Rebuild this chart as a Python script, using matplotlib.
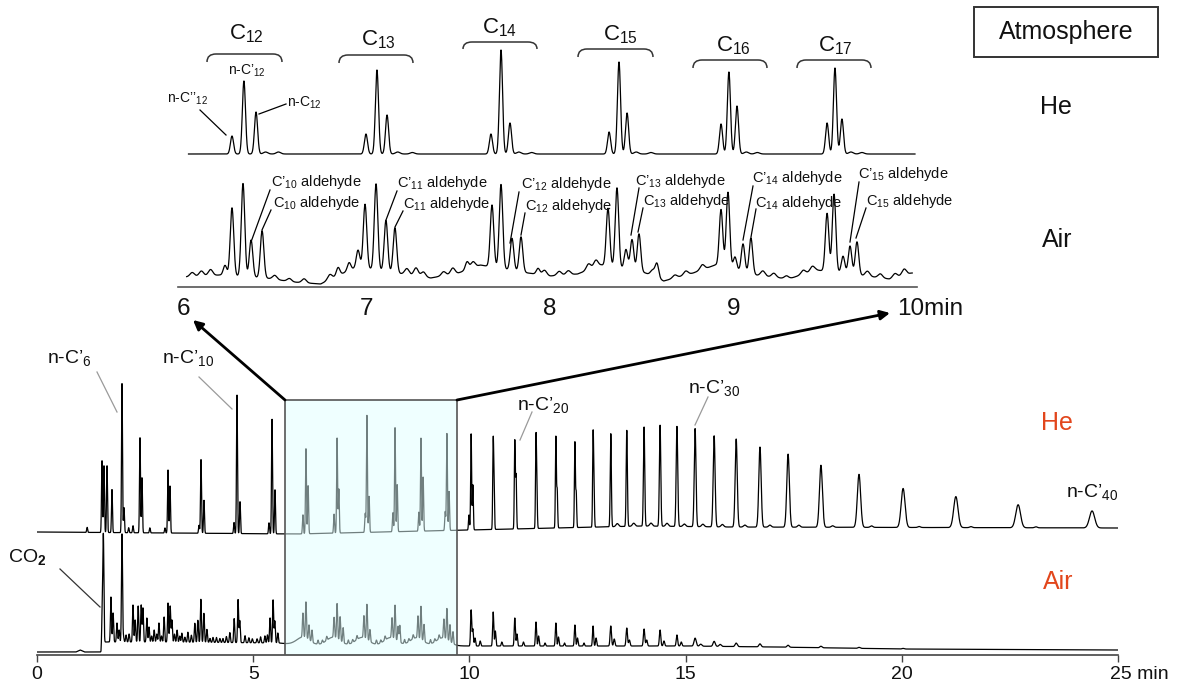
import numpy as np
import matplotlib
matplotlib.use("Agg")
import matplotlib.pyplot as plt
from matplotlib.transforms import Affine2D, ScaledTranslation
from matplotlib.patches import Rectangle, PathPatch
from matplotlib.path import Path
from matplotlib.lines import Line2D

plt.rcParams['font.family'] = ['Liberation Sans', 'DejaVu Sans']
plt.rcParams['mathtext.fontset'] = 'custom'
plt.rcParams['mathtext.rm'] = 'Liberation Sans'
plt.rcParams['mathtext.it'] = 'Liberation Sans:italic'
plt.rcParams['mathtext.bf'] = 'Liberation Sans:bold'

# ---------------- data: main chromatogram (0-25 min) ----------------
MAIN_TICKS = [0, 5, 10, 15, 20, 25]
MAIN_TICK_LABELS = ['0', '5', '10', '15', '20', '25 min']

# He atmosphere : baseline anchors and peaks (time min, height, width)
HE_BASE_T = [0, 6, 10, 14, 16, 25]
HE_BASE_Y = [123, 121, 125, 129, 128, 127]
HE_EARLY_T = [1.16, 1.503, 1.549, 1.619, 1.734, 1.966, 2.012, 2.12, 2.22, 2.382, 2.428, 2.61,
              2.96, 3.030, 3.076, 3.747, 3.793, 3.862, 4.556, 4.625, 4.695, 5.365, 5.435, 5.504]
HE_EARLY_H = [5, 72, 67, 67, 43, 149, 25, 5, 7, 95, 55, 5,
              5, 63, 47, 8, 74, 33, 11, 139, 32, 11, 115, 44]
HE_BOX_T = [6.15, 6.22, 6.27, 6.87, 6.94, 6.98, 7.59, 7.63, 7.68, 8.23, 8.28, 8.33,
            8.83, 8.88, 8.93, 9.44, 9.48, 9.53]
HE_BOX_H = [19, 85, 48, 19, 95, 44, 19, 117, 36, 19, 104, 47, 19, 93, 54, 19, 97, 39]
HE_LATE_T = [9.99, 10.04, 10.08, 10.55, 10.57, 11.05, 11.08, 11.54, 11.56, 12.00, 12.03,
             12.44, 12.47, 12.86, 12.88, 13.27, 13.64, 14.04, 14.41, 14.80, 15.22, 15.66,
             16.17, 16.72, 17.37, 18.13, 19.01, 20.03, 21.25, 22.69, 24.40]
HE_LATE_H = [15, 96, 45, 85, 37, 88, 53, 88, 36, 91, 38, 85, 35, 88, 41, 93, 96, 99, 101,
             100, 98, 91, 88, 80, 73, 62, 53, 39, 31, 23, 17]
HE_LATE_W = [0.011] * 15 + [0.013, 0.014, 0.015, 0.016, 0.018, 0.02, 0.022, 0.024, 0.027,
                            0.03, 0.034, 0.038, 0.045, 0.05, 0.055, 0.06]
HE_MINOR_T = [13.42, 13.8, 14.2, 14.57, 14.97, 15.4, 15.85, 16.37, 16.95, 17.62, 18.4, 19.3,
              20.4, 21.6, 23.1]
HE_MINOR_H = [3, 3, 3, 3, 2.5, 2.5, 2.5, 2, 2, 2, 1.5, 1.5, 1, 1, 1]

# Air atmosphere
AIR_BASE_T = [0, 0.9, 1.0, 1.1, 1.48, 1.5, 3.0, 5.6, 6.0, 10.0, 12.0, 15.0, 17.0, 20.0, 25.0]
AIR_BASE_Y = [3, 3, 5, 3, 3, 13, 13, 12, 10, 9, 9, 9, 8, 6, 5]
AIR_EARLY_T = [1.51, 1.535, 1.71, 1.76, 1.85, 1.90, 1.966, 2.0, 2.06, 2.13, 2.22, 2.27, 2.34,
               2.41, 2.45, 2.54, 2.59, 2.65, 2.71, 2.77, 2.82, 2.88, 2.94, 3.03, 3.08, 3.12,
               3.18, 3.24, 3.30, 3.35, 3.42, 3.49, 3.57, 3.65, 3.72, 3.79, 3.86, 3.93, 4.0,
               4.07, 4.15, 4.23, 4.30, 4.38, 4.46, 4.56, 4.65, 4.69, 4.81, 4.90, 4.98, 5.09,
               5.17, 5.27, 5.33, 5.39, 5.46, 5.50, 5.57]
AIR_EARLY_H = [30, 105, 45, 29, 19, 12, 108, 5, 7, 8, 37, 22, 36,
               37, 34, 24, 15, 6, 12, 8, 19, 6, 25, 39, 36, 22,
               8, 12, 6, 9, 5, 10, 7, 19, 22, 43, 29, 13, 4,
               5, 5, 4, 4, 6, 10, 24, 43, 22, 7, 5, 4, 4,
               6, 7, 8, 25, 43, 22, 10]
AIR_BOX_T = [6.15, 6.22, 6.29, 6.36, 6.5, 6.6, 6.7, 6.87, 6.94, 7.01, 7.08, 7.2, 7.3, 7.4,
             7.56, 7.63, 7.70, 7.85, 7.95, 8.05, 8.21, 8.28, 8.35, 8.39, 8.5, 8.6, 8.7,
             8.81, 8.88, 8.95, 9.1, 9.2, 9.3, 9.41, 9.48, 9.55, 9.62]
AIR_BOX_H = [24, 36, 15, 12, 4, 3, 4, 20, 35, 24, 15, 4, 3, 4,
             22, 35, 12, 4, 3, 4, 20, 34, 15, 17, 4, 3, 4,
             22, 33, 17, 4, 3, 4, 19, 31, 17, 12]
AIR_HUMP_T = [6.15, 6.85, 7.52, 8.18, 8.78, 9.38]
AIR_HUMP_H = [8, 8, 8, 8, 8, 8]
AIR_LATE_T = [10.04, 10.08, 10.13, 10.25, 10.55, 10.6, 10.75, 11.05, 11.1, 11.25, 11.54, 11.6,
              11.75, 12.0, 12.06, 12.2, 12.44, 12.5, 12.65, 12.86, 12.93, 13.27, 13.35, 13.64,
              13.7, 14.04, 14.1, 14.41, 14.5, 14.8, 14.9, 15.22, 15.35, 15.66, 15.8, 16.17,
              16.72, 17.37, 18.13, 19.01, 20.03]
AIR_LATE_H = [36, 17, 8, 5, 34, 15, 4, 28, 12, 4, 24, 10,
              3, 23, 9, 3, 21, 8, 3, 20, 8, 20, 7, 18,
              6, 17, 6, 16, 5, 11, 4, 8, 2, 5, 2, 3.5,
              3, 2, 1.5, 1, 0.6]
AIR_LATE_W = [0.013] * 21 + [0.016] * 10 + [0.025] * 10

# ---------------- data: zoomed chromatogram (6-10 min) ----------------
INSET_TICKS = [6, 7, 8, 9, 10]
INSET_TICK_LABELS = ['6', '7', '8', '9', '10min']
IN_HE_BASE = 133
IN_HE_T = [6.267, 6.332, 6.398, 6.997, 7.057, 7.112, 7.678, 7.733, 7.782,
           8.322, 8.376, 8.420, 8.932, 8.975, 9.019, 9.510, 9.553, 9.591]
IN_HE_H = [18, 73, 42, 20, 84, 39, 20, 104, 31, 22, 92, 41, 30, 82, 48, 31, 86, 35]
IN_HE_MINOR_T = [6.45, 6.52, 7.17, 7.25, 7.83, 7.9, 8.47, 8.55, 9.07, 9.13, 9.64, 9.7]
IN_HE_MINOR_H = [2, 2, 2, 1.5, 2, 1.5, 2, 1.5, 2, 1.5, 2, 1.5]

IN_AIR_BASE_T = [6.0, 6.2, 6.45, 6.6, 6.75, 6.85, 6.95, 7.2, 7.35, 7.5, 7.62, 7.88, 8.0, 8.15,
                 8.28, 8.52, 8.62, 8.78, 8.9, 9.12, 9.3, 9.45, 9.68, 9.85, 9.97]
IN_AIR_BASE_Y = [10, 12, 9, 5, 3, 12, 20, 13, 9, 14, 22, 14, 11, 13,
                 22, 14, 6, 14, 22, 12, 8, 17, 12, 8, 14]
IN_AIR_T = [6.229, 6.267, 6.327, 6.371, 6.431,
            6.845, 6.905, 6.954, 6.992, 7.052, 7.106, 7.155,
            7.548, 7.684, 7.733, 7.793, 7.842, 7.935,
            8.316, 8.365, 8.414, 8.447, 8.485, 8.583,
            8.932, 8.970, 9.008, 9.052, 9.095,
            9.510, 9.548, 9.597, 9.635, 9.673]
IN_AIR_H = [10, 68, 93, 37, 47,
            8, 8, 17, 64, 86, 51, 45,
            8, 62, 84, 32, 35, 6,
            58, 80, 20, 31, 38, 14,
            57, 76, 13, 28, 36,
            58, 78, 17, 28, 33]
IN_AIR_NOISE_T = [6.05, 6.1, 6.15, 6.5, 6.58, 6.66, 6.8, 7.22, 7.27, 7.31, 7.42, 7.47, 7.58,
                  7.97, 8.05, 8.1, 8.21, 8.25, 8.56, 8.68, 8.74, 8.83, 9.16, 9.22, 9.29, 9.38,
                  9.43, 9.73, 9.8, 9.88, 9.93]
IN_AIR_NOISE_H = [4, 5, 6, 4, 3, 4, 5, 6, 8, 5, 4, 6, 6,
                  5, 4, 4, 6, 7, 6, 3, 4, 5, 5, 4, 3, 4,
                  5, 5, 4, 4, 6]

# ---------------- helpers ----------------
def build(t, base_t, base_y, groups):
    y = np.interp(t, base_t, base_y)
    for pt, ph, pw in groups:
        pw = np.broadcast_to(np.asarray(pw, float), np.shape(pt))
        for c, h, w in zip(pt, ph, pw):
            y = y + h * np.exp(-0.5 * ((t - c) / w) ** 2)
    return y

W, H = 1185, 687
fig = plt.figure(figsize=(W / 100, H / 100), dpi=100)
px = Affine2D().scale(1 / W, -1 / H).translate(0, 1) + fig.transFigure
RED = '#E2461C'
TXT = '#111111'

# ---------------- main axes ----------------
ax = fig.add_axes([37 / W, 32 / H, 1081 / W, 325 / H])
ax.set_xlim(0, 25)
ax.set_ylim(0, 325)
t = np.arange(0.0, 25.0, 0.002)
he = build(t, HE_BASE_T, HE_BASE_Y, [(HE_EARLY_T, HE_EARLY_H, 0.011), (HE_BOX_T, HE_BOX_H, 0.011),
                                     (HE_LATE_T, HE_LATE_H, HE_LATE_W), (HE_MINOR_T, HE_MINOR_H, 0.03)])
air = build(t, AIR_BASE_T, AIR_BASE_Y, [(AIR_EARLY_T, AIR_EARLY_H, 0.012), (AIR_BOX_T, AIR_BOX_H, 0.012),
                                       (AIR_HUMP_T, AIR_HUMP_H, 0.15), (AIR_LATE_T, AIR_LATE_H, AIR_LATE_W)])
ax.plot(t, he, color='black', lw=0.9, zorder=2)
ax.plot(t, air, color='black', lw=0.9, zorder=2)
ax.add_patch(Rectangle((5.74, 0), 9.71 - 5.74, 255, facecolor=(0.88, 1, 1), alpha=0.5,
                       edgecolor='none', zorder=3))
ax.add_patch(Rectangle((5.74, 0), 9.71 - 5.74, 255, facecolor='none', edgecolor='#555555',
                       lw=1.2, zorder=4))
for s in ['top', 'left', 'right']:
    ax.spines[s].set_visible(False)
ax.spines['bottom'].set_color('#444444')
ax.spines['bottom'].set_linewidth(1.2)
ax.set_yticks([])
ax.set_xticks(MAIN_TICKS)
ax.set_xticklabels(MAIN_TICK_LABELS, fontsize=14, color=TXT)
ax.tick_params(axis='x', direction='out', length=5, width=1.0, color='#444444', pad=3)
lab = ax.get_xticklabels()[-1]
lab.set_horizontalalignment('left')
lab.set_transform(lab.get_transform() + ScaledTranslation(-8 / 100, 0, fig.dpi_scale_trans))
ax.patch.set_visible(False)

# ---------------- inset axes ----------------
ai = fig.add_axes([177.5 / W, 400 / H, (917 - 177.5) / W, 287 / H])
ai.set_xlim(5.97, 10.0)
ai.set_ylim(0, 287)
ti = np.arange(6.03, 9.99, 0.001)
ihe = build(ti, [6, 10], [IN_HE_BASE, IN_HE_BASE], [(IN_HE_T, IN_HE_H, 0.0085),
                                                   (IN_HE_MINOR_T, IN_HE_MINOR_H, 0.012)])
ta = np.arange(6.02, 9.975, 0.001)
iair = build(ta, IN_AIR_BASE_T, IN_AIR_BASE_Y, [(IN_AIR_T, IN_AIR_H, 0.0095),
                                               (IN_AIR_NOISE_T, IN_AIR_NOISE_H, 0.012)])
ai.plot(ti, ihe, color='black', lw=0.9)
ai.plot(ta, iair, color='black', lw=0.9)
for s in ['top', 'left', 'right']:
    ai.spines[s].set_visible(False)
ai.spines['bottom'].set_color('#555555')
ai.spines['bottom'].set_linewidth(1.2)
ai.set_yticks([])
ai.set_xticks(INSET_TICKS)
ai.set_xticklabels(INSET_TICK_LABELS, fontsize=17.5, color=TXT)
ai.tick_params(axis='x', length=0, pad=8)
lab = ai.get_xticklabels()[-1]
lab.set_horizontalalignment('left')
lab.set_transform(lab.get_transform() + ScaledTranslation(-20 / 100, 0, fig.dpi_scale_trans))
ai.patch.set_visible(False)

# ---------------- annotations (figure pixel layout) ----------------
def txt(x, y, s, size, color=TXT, ha='left', va='baseline'):
    fig.text(x, y, s, transform=px, fontsize=size, color=color, ha=ha, va=va)

def seg(x0, y0, x1, y1, color='black', lw=0.9):
    fig.add_artist(Line2D([x0, x1], [y0, y1], transform=px, color=color, lw=lw))

# group braces and labels
BRACES = [(207, 282, 54, 62), (339, 413, 55, 63), (463, 537, 42, 49),
          (578, 653, 49, 57), (693, 767, 60, 68), (797, 871, 60, 68)]
GROUP_LABELS = ['C$_{12}$', 'C$_{13}$', 'C$_{14}$', 'C$_{15}$', 'C$_{16}$', 'C$_{17}$']
GROUP_POS = [(246, 39), (378, 45), (500, 33), (620, 40), (733, 51), (835, 51)]
for (x0, x1, yt, ye), s, (lx, ly) in zip(BRACES, GROUP_LABELS, GROUP_POS):
    r = 9
    verts = [(x0, ye), (x0, yt), (x0 + r, yt), (x1 - r, yt), (x1, yt), (x1, ye)]
    codes = [Path.MOVETO, Path.CURVE3, Path.CURVE3, Path.LINETO, Path.CURVE3, Path.CURVE3]
    fig.add_artist(PathPatch(Path(verts, codes), transform=px, fill=False, lw=1.1,
                             edgecolor='#333333'))
    txt(lx, ly, s, 16, ha='center')

txt(247, 75, 'n-C’$_{12}$', 10, ha='center')
txt(167, 103, 'n-C’’$_{12}$', 10)
seg(200, 110, 226, 135)
txt(287, 107, 'n-C$_{12}$', 10)
seg(286, 104, 259, 114)

ALD = [(271, 186, 'C’$_{10}$ aldehyde', (270, 190, 251, 242)),
       (273, 207, 'C$_{10}$ aldehyde', (271, 210, 262, 230)),
       (397, 187, 'C’$_{11}$ aldehyde', (397, 191, 386, 220)),
       (403, 208, 'C$_{11}$ aldehyde', (403, 211, 395, 227)),
       (521, 188, 'C’$_{12}$ aldehyde', (519, 192, 510, 243)),
       (525, 210, 'C$_{12}$ aldehyde', (525, 213, 521, 235)),
       (635, 185, 'C’$_{13}$ aldehyde', (639, 188, 631, 235)),
       (643, 205, 'C$_{13}$ aldehyde', (643, 208, 638, 232)),
       (752, 182, 'C’$_{14}$ aldehyde', (753, 186, 743, 240)),
       (755, 207, 'C$_{14}$ aldehyde', (756, 209, 751, 237)),
       (858, 178, 'C’$_{15}$ aldehyde', (859, 182, 850, 242)),
       (866, 205, 'C$_{15}$ aldehyde', (866, 208, 856, 238))]
for x, y, s, (a, b, c, d) in ALD:
    txt(x, y, s, 10.5)
    seg(a, b, c, d)

# Atmosphere legend block
fig.add_artist(Rectangle((974, 57), 184, -50, transform=px, facecolor='white',
                         edgecolor='#333333', lw=1.4))
txt(1066, 32, 'Atmosphere', 18, ha='center', va='center')
txt(1056, 107, 'He', 18, ha='center', va='center')
txt(1057, 240, 'Air', 18, ha='center', va='center')
txt(1057, 423, 'He', 18, color=RED, ha='center', va='center')
txt(1058, 582, 'Air', 18, color=RED, ha='center', va='center')

# main chromatogram labels
GRAY = '#9a9a9a'
txt(47, 363, 'n-C’$_{6}$', 14)
seg(97, 372, 117, 412, GRAY)
txt(162, 363, 'n-C’$_{10}$', 14)
seg(199, 377, 232, 409, GRAY)
txt(517, 410, 'n-C’$_{20}$', 14)
seg(532, 412, 520, 440, GRAY)
txt(688, 393, 'n-C’$_{30}$', 14)
seg(708, 397, 695, 425, GRAY)
txt(1066, 497, 'n-C’$_{40}$', 14)
txt(8, 562, 'CO$_\\mathbf{2}$', 14)
seg(60, 569, 100, 607, '#333333')

# zoom arrows
for (x0, y0), (x1, y1) in [((285, 400), (193, 320)), ((457, 400), (890, 313))]:
    fig.add_artist(matplotlib.patches.FancyArrowPatch((x0, y0), (x1, y1), transform=px,
                   arrowstyle='-|>', mutation_scale=14, lw=2.0, color='black',
                   shrinkA=0, shrinkB=0))

fig.savefig('out.png', dpi=100)
